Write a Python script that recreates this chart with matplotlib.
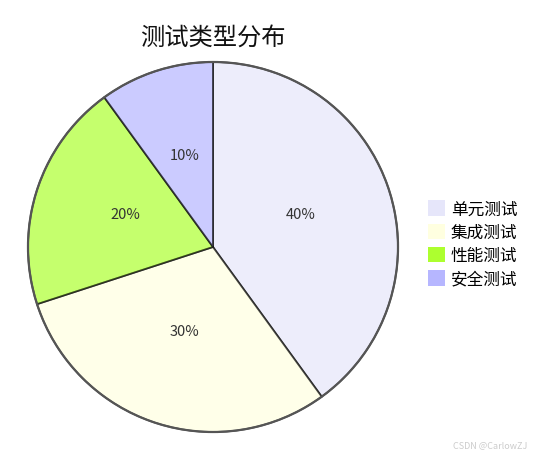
import matplotlib
matplotlib.use("Agg")
import matplotlib.pyplot as plt
from matplotlib.patches import Patch, Circle

plt.rcParams['font.family'] = ['Noto Sans CJK SC', 'DejaVu Sans']

labels = ['单元测试', '集成测试', '性能测试', '安全测试']
values = [40, 30, 20, 10]
colors = ['#e6e6fa', '#ffffe0', '#adff2f', '#b6b6ff']
title = '测试类型分布'

fig = plt.figure(figsize=(5.4, 4.6), dpi=100)
fig.patch.set_facecolor('white')
r_px = 185
cx, cy = 213, 460 - 248
ax = fig.add_axes([(cx - r_px) / 540, (cy - r_px) / 460, 2 * r_px / 540, 2 * r_px / 460])

wedges, texts, autotexts = ax.pie(
    values, colors=colors, startangle=90, counterclock=False,
    autopct='%1.0f%%', pctdistance=0.5,
    wedgeprops=dict(edgecolor='#111111', linewidth=1.3, alpha=0.7),
    textprops=dict(fontsize=10.5, color='#333333'))
for w in wedges:
    w.set_edgecolor('#111111')
    w.set_clip_on(False)
for t in autotexts:
    x, y = t.get_position()
    t.set_position((x, y + 0.022))
ax.add_patch(Circle((0, 0), 1.0, fill=False, edgecolor='#555555', linewidth=1.6,
                    zorder=5, clip_on=False))
ax.set_xlim(-1.0, 1.0)
ax.set_ylim(-1.0, 1.0)
ax.set_aspect('equal')
ax.axis('off')

fig.text(cx / 540, 1 - 38 / 460, title, ha='center', va='center', fontsize=17.5, color='#111111')

handles = [Patch(facecolor=c, edgecolor='none') for c in colors]
fig.legend(handles, labels, loc='center left', bbox_to_anchor=(426 / 540, 1 - 245 / 460),
           frameon=False, fontsize=12, handlelength=1.05, handleheight=1.05,
           handletextpad=0.35, labelspacing=0.36, borderpad=0.1, borderaxespad=0.0)

fig.text(527 / 540, 1 - 446 / 460, 'CSDN @CarlowZJ', ha='right', va='center',
         fontsize=6.5, color='#cccccc')

fig.savefig('out.png', dpi=100)
